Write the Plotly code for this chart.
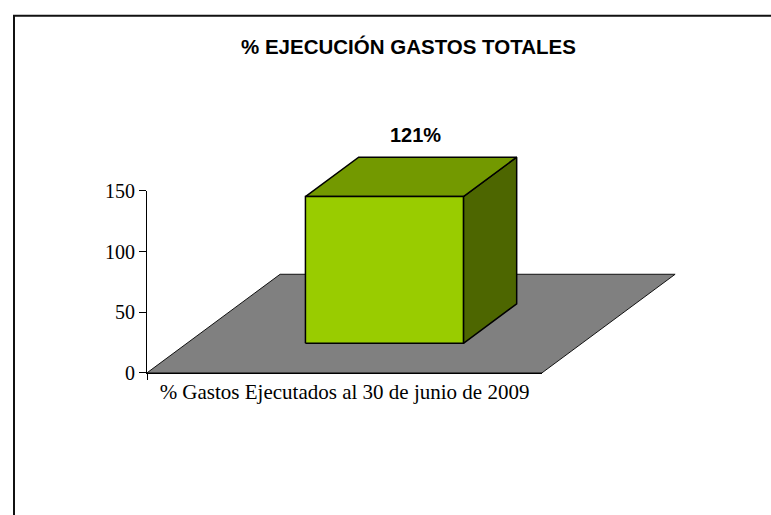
import plotly.graph_objects as go

# ---- data ----
categories = ["% Gastos Ejecutados al 30 de junio de 2009"]
values = [121]
value_labels = ["121%"]
y_tickvals = [0, 50, 100, 150]
title_text = "% EJECUCIÓN GASTOS TOTALES"

# ---- geometry / style ----
W, H = 771, 515
dx0, dx1 = 147 / W, 542 / W
dy0, dy1 = 1 - 378 / H, 1 - 188 / H
YMAX = 150
# oblique projection of the depth direction (full floor depth), in data units
DEPTH_X = 0.337
DEPTH_Y = 81.3
BAR_W = 0.4
BAR_D0, BAR_D1 = 0.3, 0.7

FRONT = "#99CC00"
TOP = "#739900"
SIDE = "#4D6600"
FLOOR = "#808080"

# full-figure drawing subplot ranges, same scale as the visible axis subplot
xspan = 1.0 / (dx1 - dx0)
x_rng = [-0.5 - dx0 * xspan, 0.5 + (1 - dx1) * xspan]
yspan = YMAX / (dy1 - dy0)
y_rng = [0 - dy0 * yspan, YMAX + (1 - dy1) * yspan]

fig = go.Figure()

def poly(xs, ys, fill, lw=1.5, lc="black"):
    fig.add_trace(go.Scatter(
        x=xs + [xs[0]], y=ys + [ys[0]], mode="lines", fill="toself",
        fillcolor=fill, line=dict(color=lc, width=lw),
        xaxis="x", yaxis="y", hoverinfo="skip", showlegend=False))

# floor
poly([-0.5, 0.5, 0.5 + DEPTH_X, -0.5 + DEPTH_X],
     [0, 0, DEPTH_Y, DEPTH_Y], FLOOR, lw=1, lc="#111111")

for i, v in enumerate(values):
    c = i
    fx0 = c - BAR_W / 2 + BAR_D0 * DEPTH_X
    fx1 = c + BAR_W / 2 + BAR_D0 * DEPTH_X
    fy0 = BAR_D0 * DEPTH_Y
    fy1 = fy0 + v
    ddx = (BAR_D1 - BAR_D0) * DEPTH_X
    ddy = (BAR_D1 - BAR_D0) * DEPTH_Y
    # right side, top, front faces
    poly([fx1, fx1 + ddx, fx1 + ddx, fx1], [fy0, fy0 + ddy, fy1 + ddy, fy1], SIDE)
    poly([fx0, fx1, fx1 + ddx, fx0 + ddx], [fy1, fy1, fy1 + ddy, fy1 + ddy], TOP)
    poly([fx0, fx1, fx1, fx0], [fy0, fy0, fy1, fy1], FRONT)
    fig.add_annotation(
        x=c + 0.5 * DEPTH_X, y=fy1 + ddy, xref="x", yref="y",
        text="<b>%s</b>" % value_labels[i], showarrow=False,
        yanchor="bottom", xanchor="center", yshift=9, xshift=4,
        font=dict(family="Arial, Liberation Sans, sans-serif", size=20, color="black"))

# trace carrying the category for the visible axes
fig.add_trace(go.Scatter(x=categories, y=[None] * len(categories), mode="markers",
                         xaxis="x2", yaxis="y2", hoverinfo="skip", showlegend=False))

serif = "Times New Roman, Liberation Serif, serif"
fig.update_layout(
    width=W, height=H, margin=dict(l=0, r=0, t=0, b=0, pad=0),
    paper_bgcolor="white", plot_bgcolor="rgba(0,0,0,0)", hovermode=False,
    showlegend=False,
    xaxis=dict(domain=[0, 1], range=x_rng, visible=False, fixedrange=True),
    yaxis=dict(domain=[0, 1], range=y_rng, visible=False, fixedrange=True),
    xaxis2=dict(domain=[dx0, dx1], anchor="y2", type="category", range=[-0.5, 0.5],
                showline=True, linecolor="black", linewidth=1, showgrid=False,
                ticks="outside", tickson="boundaries", ticklen=6, tickcolor="black",
                tickfont=dict(family=serif, size=21, color="black"), fixedrange=True),
    yaxis2=dict(domain=[dy0, dy1], anchor="x2", range=[0, YMAX], tickvals=y_tickvals,
                showline=True, linecolor="black", linewidth=1, showgrid=False,
                zeroline=False, ticks="outside", ticklen=7, tickcolor="black",
                tickfont=dict(family=serif, size=20, color="black"), fixedrange=True),
)

fig.add_annotation(x=408 / W, y=1 - 37 / H, xref="paper", yref="paper",
                   text="<b>%s</b>" % title_text, showarrow=False,
                   xanchor="center", yanchor="middle",
                   font=dict(family="Arial, Liberation Sans, sans-serif", size=20.5, color="black"))

fig.add_shape(type="rect", xref="paper", yref="paper",
              x0=14 / W, x1=1.05, y0=-0.05, y1=1 - 5 / H,
              line=dict(color="#111111", width=2), layer="below")

fig.write_html("out.html", config={"responsive": False, "displayModeBar": False},
               post_script="document.body.style.margin='0';document.body.style.overflow='hidden';")
